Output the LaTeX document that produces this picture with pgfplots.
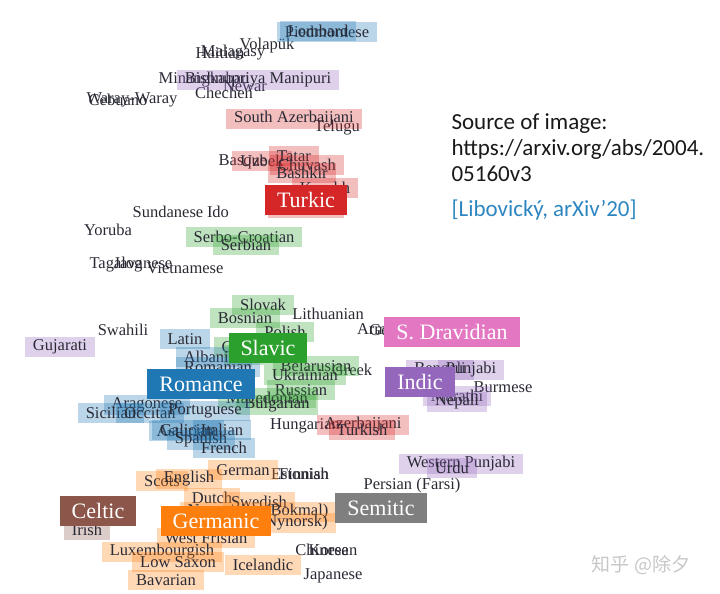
\documentclass[border=0pt]{standalone}
\usepackage{fontspec}
\setmainfont{Liberation Serif}
\newfontfamily\carlito{Carlito}
\newfontfamily\cjk{Noto Sans CJK SC}
\usepackage{pgfplots}
\usepackage{pgfplotstable}
\pgfplotsset{compat=1.18}

\definecolor{tred}{HTML}{D62728}
\definecolor{tgreen}{HTML}{2CA02C}
\definecolor{tblue}{HTML}{1F77B4}
\definecolor{tpink}{HTML}{E377C2}
\definecolor{tpurple}{HTML}{9467BD}
\definecolor{tbrown}{HTML}{8C564B}
\definecolor{torange}{HTML}{FF7F0E}
\definecolor{tgray}{HTML}{7F7F7F}
\definecolor{txt}{HTML}{2A2A35}
\definecolor{srcblue}{HTML}{2E86C1}

% positions in pixels of the 720x594 reference (y downwards)
\pgfplotstableread[col sep=comma,row sep=\\]{
x,y,label\\
220,53,Haitian\\
233,53,Malagasy\\
267,46,Volapük\\
204,80,Minangkabau\\
245,86,Newar\\
224,93,Chechen\\
118,100,Cebuano\\
132,100,Waray-Waray\\
337,128,Telugu\\
243,162,Basque\\
168,212,Sundanese\\
218,212,Ido\\
108,230,Yoruba\\
116,265,Tagalog\\
143,263,Javanese\\
185,268,Vietnamese\\
123,330,Swahili\\
328,314,Lithuanian\\
390,329,Armenian\\
400,332,Georgian\\
352,370,Greek\\
305,426,Hungarian\\
503,387,Burmese\\
300,474,Estonian\\
304,474,Finnish\\
412,486,Persian (Farsi)\\
322,550,Chinese\\
333,550,Korean\\
333,576,Japanese\\
}\others

\pgfplotstableread[col sep=comma,row sep=\\]{
x,y,label\\
294,119,South Azerbaijani\\
262,161,Uzbek\\
294,156,Tatar\\
307,165,Chuvash\\
302,173,Bashkir\\
325,188,Kazakh\\
306,208,Turkmen\\
363,425,Azerbaijani\\
362,430,Turkish\\
}\turkic

\pgfplotstableread[col sep=comma,row sep=\\]{
x,y,label\\
244,237,Serbo-Croatian\\
246,245,Serbian\\
263,305,Slovak\\
245,318,Bosnian\\
285,332,Polish\\
250,347,Croatian\\
265,355,Slovenian\\
316,366,Belarusian\\
305,375,Ukrainian\\
301,390,Russian\\
267,398,Macedonian\\
277,405,Bulgarian\\
}\slavic

\pgfplotstableread[col sep=comma,row sep=\\]{
x,y,label\\
327,32,Piedmontese\\
318,31,Lombard\\
185,339,Latin\\
214,357,Albanian\\
218,367,Romanian\\
147,405,Aragonese\\
111,413,Sicilian\\
150,413,Occitan\\
205,411,Portuguese\\
185,431,Asturian\\
188,430,Galician\\
222,430,Italian\\
201,440,Spanish\\
224,448,French\\
}\romance

\pgfplotstableread[col sep=comma,row sep=\\]{
x,y,label\\
258,80,Bishnupriya Manipuri\\
60,347,Gujarati\\
440,370,Bengali\\
471,370,Punjabi\\
457,396,Marathi\\
457,402,Nepali\\
461,464,Western Punjabi\\
452,468,Urdu\\
}\indic

\pgfplotstableread[col sep=comma,row sep=\\]{
x,y,label\\
243,470,German\\
162,481,Scots\\
189,479,English\\
212,498,Dutch\\
259,502,Swedish\\
258,512,Norwegian (Bokmal)\\
255,523,Norwegian (Nynorsk)\\
206,538,West Frisian\\
162,552,Luxembourgish\\
178,562,Low Saxon\\
263,565,Icelandic\\
166,580,Bavarian\\
}\germanic

\pgfplotstableread[col sep=comma,row sep=\\]{
x,y,label\\
87,530,Irish\\
}\celtic

\pgfplotsset{
  lab/.style={only marks, mark=none, nodes near coords, point meta=explicit symbolic,
    nodes near coords style={anchor=center, text=txt, inner ysep=0pt,
      font=\fontsize{16.5}{16.5}\selectfont, #1}},
  box/.style={lab={fill=#1, fill opacity=0.3, text opacity=1, inner xsep=8pt,
      minimum height=20pt}},
  big/.style={only marks, mark=none, nodes near coords, point meta=explicit symbolic,
    nodes near coords style={anchor=center, fill=#1, text=white, inner xsep=12pt,
      inner ysep=0pt, minimum height=30pt, font=\fontsize{22}{22}\selectfont}},
}

\begin{document}
\begin{tikzpicture}
\begin{axis}[
    scale only axis, width=720pt, height=594pt,
    xmin=0, xmax=720, ymin=0, ymax=594, y dir=reverse,
    hide axis, clip=false,
]
\addplot[lab={}] table[x=x,y=y,meta=label] {\others};
\addplot[box=tred] table[x=x,y=y,meta=label] {\turkic};
\addplot[box=tgreen] table[x=x,y=y,meta=label] {\slavic};
\addplot[box=tblue] table[x=x,y=y,meta=label] {\romance};
\addplot[box=tpurple] table[x=x,y=y,meta=label] {\indic};
\addplot[box=torange] table[x=x,y=y,meta=label] {\germanic};
\addplot[box=tbrown] table[x=x,y=y,meta=label] {\celtic};

\addplot[big=tred] coordinates {(306,200) [Turkic]};
\addplot[big=tgreen] coordinates {(268,348) [Slavic]};
\addplot[big=tblue] coordinates {(201,384) [Romance]};
\addplot[big=tpink] coordinates {(452,332) [S. Dravidian]};
\addplot[big=tpurple] coordinates {(420,382) [Indic]};
\addplot[big=tbrown] coordinates {(98,511) [Celtic]};
\addplot[big=torange] coordinates {(216,521) [Germanic]};
\addplot[big=tgray] coordinates {(381,508) [Semitic]};

\node[anchor=west, align=left, text=black!90, font=\carlito\fontsize{23}{26}\selectfont]
  at (axis cs:448,148) {Source of image:\\https://arxiv.org/abs/2004.\\05160v3};
\node[anchor=west, text=srcblue, font=\carlito\fontsize{23}{26}\selectfont]
  at (axis cs:448,210) {[Libovický, arXiv’20]};
\node[text=black!22, font=\cjk\fontsize{19}{19}\selectfont] at (axis cs:641,565) {知乎 @除夕};
\end{axis}
\pgfresetboundingbox
\path (0,0) rectangle (720pt,594pt);
\end{tikzpicture}
\end{document}
